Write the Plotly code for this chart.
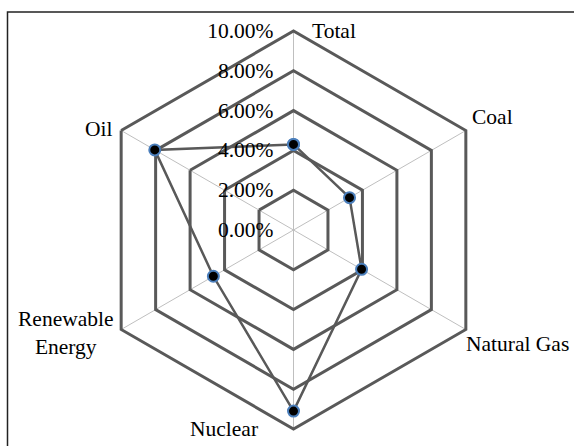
import math
import plotly.graph_objects as go

# dados
categorias = ["Total", "Coal", "Natural Gas", "Nuclear", "Renewable Energy", "Oil"]
rotulos = ["Total", "Coal", "Natural Gas", "Nuclear", "Renewable<br>Energy", "Oil"]
valores = [4.30, 3.25, 3.95, 9.10, 4.65, 8.05]
ticks_r = [0, 2, 4, 6, 8, 10]
ticks_txt = ["0.00%", "2.00%", "4.00%", "6.00%", "8.00%", "10.00%"]

W, H = 574, 446
CX, CY, R = 293.5, 230, 199  # centro e raio do radar (px)

FONTE = dict(family="Liberation Serif", size=21.5, color="#000000")
CINZA = "#595959"

fig = go.Figure()

# fecha o polígono repetindo o primeiro ponto
fig.add_trace(go.Scatterpolar(
    r=valores + valores[:1],
    theta=categorias + categorias[:1],
    mode="lines+markers",
    line=dict(color=CINZA, width=2.5),
    marker=dict(color="#000000", size=11, line=dict(color="#4A7EBB", width=2)),
    showlegend=False,
    cliponaxis=False,
))

fig.update_layout(
    width=W, height=H,
    margin=dict(l=0, r=0, t=0, b=0),
    paper_bgcolor="white",
    font=FONTE,
    polar=dict(
        domain=dict(x=[(CX - R) / W, (CX + R) / W],
                    y=[(H - CY - R) / H, (H - CY + R) / H]),
        gridshape="linear",
        bgcolor="white",
        radialaxis=dict(
            range=[0, 10], tickvals=ticks_r, ticktext=ticks_txt,
            angle=90, side="counterclockwise", tickangle=90,
            showline=False, gridcolor=CINZA, gridwidth=3,
            ticks="outside", ticklen=12, tickcolor="rgba(0,0,0,0)",
            tickfont=FONTE,
        ),
        angularaxis=dict(
            direction="clockwise", rotation=90,
            showticklabels=False, ticks="",
            gridcolor="#BFBFBF", gridwidth=1,
            linecolor=CINZA, linewidth=3,
        ),
    ),
)

# rótulos das categorias ao estilo do Excel
ancoras = [("left", "middle", 16, 0), ("left", "bottom", 4, 0),
           ("left", "top", -2, 0), ("right", "middle", -34, 0),
           ("right", "middle", -5, -3), ("right", "middle", -6, 2)]
for i, txt in enumerate(rotulos):
    ang = math.radians(90 - 60 * i)
    vx = CX + R * math.cos(ang)
    vy = CY - R * math.sin(ang)
    xa, ya, dx, dy = ancoras[i]
    fig.add_annotation(x=vx / W, y=1 - vy / H, xref="paper", yref="paper",
                       text=txt, showarrow=False, xanchor=xa, yanchor=ya,
                       xshift=dx, yshift=dy, font=FONTE, align="center")

# moldura
fig.add_shape(type="rect", xref="paper", yref="paper",
              x0=7.5 / W, x1=1.05, y0=-0.05, y1=1 - 12 / H,
              line=dict(color="#222222", width=1.5))

# a página vem com margem de 8px no body; tira para o gráfico ocupar a janela
fig.write_html("out.html", config={"displayModeBar": False},
               post_script="document.body.style.margin='0px';")
